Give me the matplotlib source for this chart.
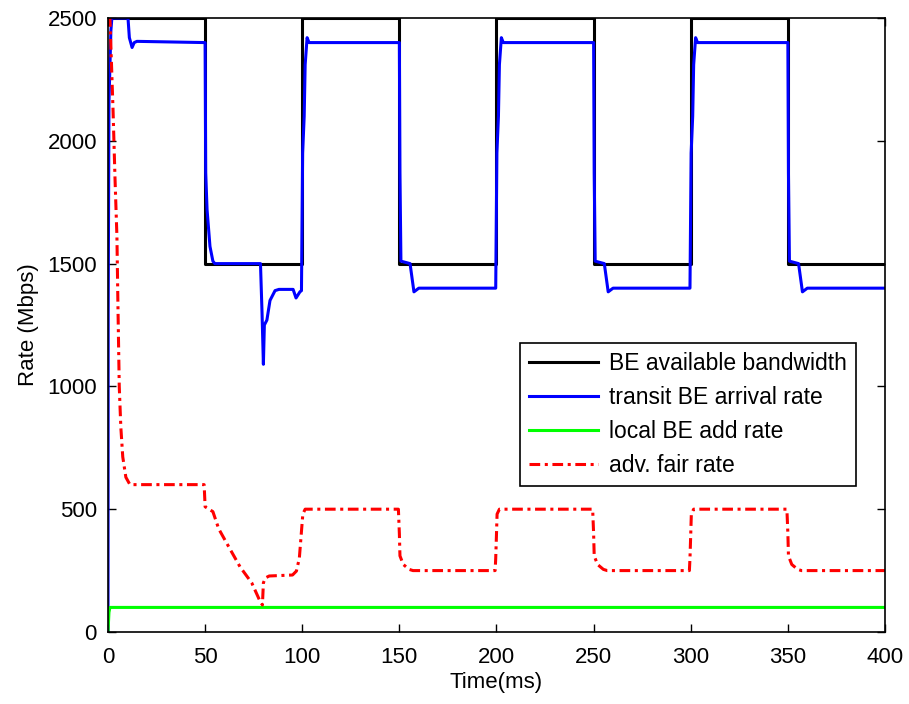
import matplotlib
matplotlib.use('Agg')
import matplotlib.pyplot as plt

plt.rcParams['font.family'] = ['Liberation Sans', 'DejaVu Sans']

# BE available bandwidth (Mbps)
bw_t = [0, 50, 50, 100, 100, 150, 150, 200, 200, 250, 250, 300, 300, 350, 350, 400]
bw_v = [2500, 2500, 1500, 1500, 2500, 2500, 1500, 1500, 2500, 2500, 1500, 1500, 2500, 2500, 1500, 1500]

# transit BE arrival rate
tr_t = [0, 0.1, 0.5, 1.5, 2.0, 10.3, 11.0, 12.4, 13.5, 14.9, 50.0, 50.3, 51.0, 52.5, 54.0, 55.0,
        78.5, 79.3, 80.0, 80.5, 81.8, 83.4, 86.0, 88.0, 95.3, 96.8, 98.8, 99.6,
        100.2, 101.0, 101.5, 102.5, 103.5, 150.0, 150.3, 150.8, 155.5, 157.5, 160.0, 199.6,
        200.2, 201.0, 201.5, 202.5, 203.5, 250.0, 250.3, 250.8, 255.5, 257.5, 260.0, 299.6,
        300.2, 301.0, 301.5, 302.5, 303.5, 350.0, 350.3, 350.8, 355.5, 357.5, 360.0, 400.0]
tr_v = [0, 1300, 2160, 2450, 2500, 2500, 2420, 2380, 2400, 2405, 2400, 1870, 1720, 1570, 1510, 1500,
        1500, 1300, 1090, 1250, 1270, 1350, 1390, 1395, 1395, 1360, 1385, 1390,
        1950, 2100, 2310, 2420, 2400, 2400, 1870, 1510, 1500, 1385, 1400, 1400,
        1950, 2100, 2310, 2420, 2400, 2400, 1870, 1510, 1500, 1385, 1400, 1400,
        1950, 2100, 2310, 2420, 2400, 2400, 1870, 1510, 1500, 1385, 1400, 1400]

# local BE add rate
loc_t = [0, 0.5, 1.0, 400]
loc_v = [0, 80, 100, 100]

# advertised fair rate
fr_t = [0, 1.0, 2.6, 3.6, 4.6, 5.1, 5.8, 6.6, 7.6, 9.2, 11.3, 49.5, 50.0, 52, 54, 57, 63, 68, 74, 78,
        79.5, 80, 81, 83, 95, 97, 98.5, 99.5, 100.3, 101.5,
        149.5, 150.0, 150.3, 152, 155, 157, 199.3, 199.6, 200, 200.3, 201.5,
        249.5, 250.0, 250.3, 252, 255, 257, 299.3, 299.6, 300, 300.3, 301.5,
        349.5, 350.0, 350.3, 352, 355, 357, 400]
fr_v = [2500, 2500, 2125, 1850, 1610, 1340, 1000, 835, 713, 630, 600, 600, 510, 500, 490, 420, 335, 265, 200, 130,
        110, 200, 220, 228, 232, 248, 300, 400, 480, 500,
        500, 400, 310, 275, 255, 250, 250, 300, 400, 480, 500,
        500, 400, 310, 275, 255, 250, 250, 300, 400, 480, 500,
        500, 400, 310, 275, 255, 250, 250]

fig = plt.figure(figsize=(9.09, 7.04), dpi=100)
ax = fig.add_axes([0.1188, 0.1023, 0.8548, 0.8721])

ax.plot(bw_t, bw_v, color='black', lw=2.2, label='BE available bandwidth')
ax.plot(tr_t, tr_v, color='#0000ff', lw=2.2, label='transit BE arrival rate')
ax.plot(loc_t, loc_v, color='#00ff00', lw=2.2, label='local BE add rate')
ax.plot(fr_t, fr_v, color='red', lw=2.2, dashes=(3.5, 1.5, 1, 1.5), label='adv. fair rate')

ax.set_xlim(0, 400)
ax.set_ylim(0, 2500)
ax.set_xticks(range(0, 401, 50))
ax.set_yticks(range(0, 2501, 500))
ax.tick_params(direction='in', top=True, right=True, labelsize=16, length=6, width=1)
ax.tick_params(axis='x', pad=11)
ax.tick_params(axis='y', pad=8)
for s in ax.spines.values():
    s.set_linewidth(1.2)
ax.set_xlabel('Time(ms)', fontsize=16, labelpad=3)
ax.set_ylabel('Rate (Mbps)', fontsize=16, labelpad=6)

leg = ax.legend(loc='lower right', bbox_to_anchor=(0.963, 0.238), fontsize=16.5, fancybox=False,
                framealpha=1, edgecolor='black', handlelength=3.0, borderaxespad=0,
                labelspacing=0.48, handletextpad=0.5, borderpad=0.4)
leg.get_frame().set_linewidth(1.2)

fig.savefig('out.png', dpi=100)
